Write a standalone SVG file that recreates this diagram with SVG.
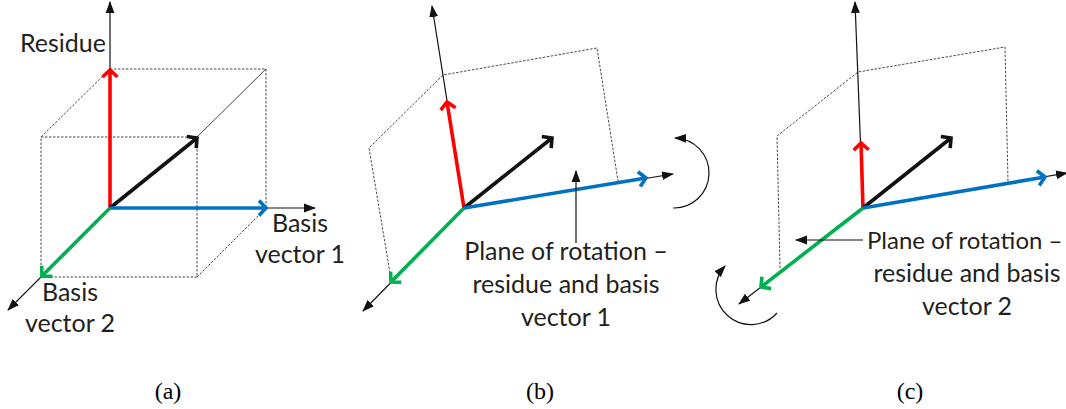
<svg xmlns="http://www.w3.org/2000/svg" width="1066" height="409" viewBox="0 0 1066 409">
<style>
.ax{stroke:#111;stroke-width:1.2;fill:none;marker-end:url(#tri)}
.rot{stroke:#111;stroke-width:1.2;fill:none;marker-end:url(#tri)}
.dash{stroke:#333;stroke-width:0.9;fill:none;stroke-dasharray:2.5 1.5}
.thin{stroke:#333;stroke-width:0.9;fill:none}
.v{stroke-width:3.6;fill:none}
.red{stroke:#FF0000;marker-end:url(#chR)}
.blue{stroke:#0070C0;marker-end:url(#chB)}
.green{stroke:#00B050;marker-end:url(#chG)}
.blk{stroke:#111;marker-end:url(#chK)}
.lbl{font-family:Lato,"Liberation Sans",sans-serif;font-size:25px;fill:#231F20;text-anchor:middle}
.cap{font-family:"Liberation Serif",serif;font-size:24px;fill:#000;text-anchor:middle}
</style>
<defs>
<marker id="tri" markerUnits="userSpaceOnUse" viewBox="0 0 12 10" markerWidth="12" markerHeight="10" refX="11" refY="5" orient="auto"><path d="M0,0.6 L12,5 L0,9.4 Z" fill="#111"/></marker>
<marker id="chR" markerUnits="userSpaceOnUse" viewBox="-12 -10 16 20" markerWidth="16" markerHeight="20" refX="0" refY="0" orient="auto"><path d="M-7,-7.5 L0,0 L-7,7.5" fill="none" stroke="#FF0000" stroke-width="3.6"/></marker>
<marker id="chB" markerUnits="userSpaceOnUse" viewBox="-12 -10 16 20" markerWidth="16" markerHeight="20" refX="0" refY="0" orient="auto"><path d="M-7,-7.5 L0,0 L-7,7.5" fill="none" stroke="#0070C0" stroke-width="3.6"/></marker>
<marker id="chG" markerUnits="userSpaceOnUse" viewBox="-12 -10 16 20" markerWidth="16" markerHeight="20" refX="0" refY="0" orient="auto"><path d="M-7,-7.5 L0,0 L-7,7.5" fill="none" stroke="#00B050" stroke-width="3.6"/></marker>
<marker id="chK" markerUnits="userSpaceOnUse" viewBox="-12 -10 16 20" markerWidth="16" markerHeight="20" refX="0" refY="0" orient="auto"><path d="M-7,-7.5 L0,0 L-7,7.5" fill="none" stroke="#111" stroke-width="3.6"/></marker>
</defs>

<g id="planes">
  <!-- panel a cube -->
  <path class="dash" d="M41,137 H197 V277 H41 Z"/>
  <path class="dash" d="M110,69 H266 V208"/>
  <path class="dash" d="M41,137 L110,69"/>
  <path class="thin" d="M197,137 L266,69"/>
  <path class="dash" d="M197,277 L266,208"/>
  <!-- panel b plane -->
  <path class="dash" d="M390,273 L369,148 L443,75 L597,48 L618,181"/>
  <!-- panel c plane -->
  <path class="dash" d="M780,268 L777,136 L858,72 L1005,47 L1008,182"/>
</g>

<g id="connectors">
  <!-- panel a axes -->
  <path class="ax" d="M110,208 L110,2"/>
  <path class="ax" d="M110,208 L315,208"/>
  <path class="ax" d="M110,208 L8,310"/>
  <!-- panel b axes -->
  <path class="ax" d="M464,208 L432,6"/>
  <path class="ax" d="M464,208 L673,174"/>
  <path class="ax" d="M464,208 L363,311"/>
  <!-- panel c axes -->
  <path class="ax" d="M863,208 L855,2"/>
  <path class="ax" d="M863,208 L1067,173"/>
  <path class="ax" d="M863,208 L739,304"/>

  <!-- panel a vectors -->
  <path class="v red" d="M110,208 L110,70"/>
  <path class="v blk" d="M110,208 L197,138"/>
  <path class="v blue" d="M110,208 L266,208"/>
  <path class="v green" d="M110,208 L42,276"/>
  <!-- panel b vectors -->
  <path class="v red" d="M464,208 L447,102"/>
  <path class="v blk" d="M464,208 L552,138"/>
  <path class="v blue" d="M464,208 L646,178"/>
  <path class="v green" d="M464,208 L391,282"/>
  <!-- panel c vectors -->
  <path class="v red" d="M863,208 L861,143"/>
  <path class="v blk" d="M863,208 L951,138"/>
  <path class="v blue" d="M863,208 L1045,177"/>
  <path class="v green" d="M863,208 L761,287"/>

  <!-- pointers -->
  <path class="ax" d="M576,243 L576,171"/>
  <path class="ax" d="M863,240 L796,240"/>
  <!-- rotation arcs -->
  <path class="rot" d="M673,208 A35,35 0 0 0 675,138"/>
  <path class="rot" d="M777,313 A35,35 0 1 1 725,266"/>
</g>

<g id="label-residue"><text class="lbl" x="63" y="52">Residue</text></g>
<g id="label-basis1"><text class="lbl" x="300" y="232">Basis</text><text class="lbl" x="300" y="263">vector 1</text></g>
<g id="label-basis2"><text class="lbl" x="70" y="301">Basis</text><text class="lbl" x="70" y="332">vector 2</text></g>
<g id="label-plane-b"><text class="lbl" x="566" y="260">Plane of rotation –</text><text class="lbl" x="566" y="293">residue and basis</text><text class="lbl" x="566" y="326">vector 1</text></g>
<g id="label-plane-c"><text class="lbl" x="867" y="249" style="text-anchor:start;font-size:24px">Plane of rotation –</text><text class="lbl" x="967" y="282">residue and basis</text><text class="lbl" x="967" y="315">vector 2</text></g>

<g id="captions">
  <text class="cap" x="168" y="399">(a)</text>
  <text class="cap" x="540" y="399">(b)</text>
  <text class="cap" x="910" y="399">(c)</text>
</g>
</svg>
